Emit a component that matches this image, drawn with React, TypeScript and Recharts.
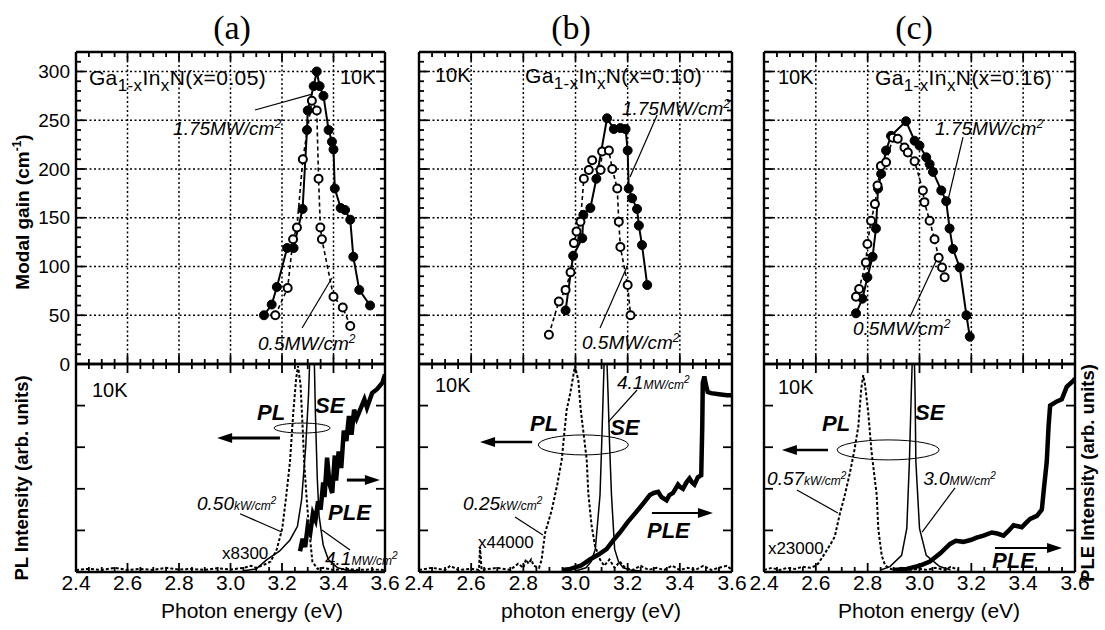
import React from "react";
import { ComposedChart, Line, XAxis, YAxis, ReferenceLine, ReferenceDot } from "recharts";

type Pt = [number, number];

// ticks
const energyTicks = [2.4, 2.6, 2.8, 3.0, 3.2, 3.4, 3.6];
const energyMinorTicks = [
  2.4, 2.45, 2.5, 2.55, 2.6, 2.65, 2.7, 2.75, 2.8, 2.85, 2.9, 2.95, 3.0,
  3.05, 3.1, 3.15, 3.2, 3.25, 3.3, 3.35, 3.4, 3.45, 3.5, 3.55, 3.6,
];
const gainTicks = [0, 50, 100, 150, 200, 250, 300];
const gainMinorTicks = Array.from({ length: 33 }, (_, i) => i * 10);
const intensityTicks = [0, 0.2, 0.4, 0.6, 0.8, 1];

// (a) x = 0.05 : modal gain, eV vs cm-1
const gainHighA: Pt[] = [
  [3.13, 50], [3.16, 61], [3.18, 79], [3.22, 119], [3.245, 119], [3.28, 159],
  [3.297, 240], [3.30, 260], [3.323, 285], [3.335, 300], [3.346, 285], [3.361, 275],
  [3.381, 240], [3.394, 228], [3.40, 220], [3.405, 180], [3.428, 160], [3.445, 158],
  [3.465, 148], [3.477, 110], [3.50, 76], [3.542, 60],
];
const gainLowA: Pt[] = [
  [3.174, 50], [3.222, 78], [3.243, 128], [3.258, 140], [3.281, 210], [3.316, 270],
  [3.335, 260], [3.342, 190], [3.349, 140], [3.355, 128], [3.40, 69], [3.436, 58], [3.465, 39],
];

// (b) x = 0.10
const gainHighB: Pt[] = [
  [2.962, 55], [2.991, 111], [3.026, 129], [3.03, 153], [3.057, 160], [3.08, 190],
  [3.121, 252], [3.147, 241], [3.172, 242], [3.192, 241], [3.2, 219], [3.204, 180],
  [3.217, 170], [3.236, 159], [3.243, 142], [3.255, 122], [3.275, 81],
];
const gainLowB: Pt[] = [
  [2.898, 30], [2.936, 64], [2.962, 76], [2.981, 94], [2.994, 124], [3.004, 136],
  [3.019, 146], [3.032, 190], [3.051, 199], [3.064, 209], [3.096, 199], [3.102, 218],
  [3.128, 219], [3.141, 200], [3.16, 180], [3.166, 146], [3.172, 120], [3.2, 81], [3.211, 50],
];

// (c) x = 0.16
const gainHighC: Pt[] = [
  [2.755, 52], [2.78, 67], [2.799, 89], [2.819, 110], [2.832, 139], [2.84, 180],
  [2.852, 195], [2.871, 219], [2.89, 234], [2.948, 249], [2.981, 229], [3.0, 224],
  [3.026, 212], [3.039, 205], [3.052, 197], [3.084, 178], [3.103, 167], [3.116, 139],
  [3.129, 118], [3.155, 99], [3.181, 50], [3.194, 28],
];
const gainLowC: Pt[] = [
  [2.755, 69], [2.767, 77], [2.793, 104], [2.799, 123], [2.813, 147], [2.828, 164],
  [2.838, 183], [2.851, 203], [2.871, 207], [2.897, 232], [2.916, 231], [2.942, 222],
  [2.955, 217], [2.981, 208], [3.013, 178], [3.019, 166], [3.039, 147], [3.058, 128],
  [3.074, 109], [3.087, 99], [3.097, 89],
];

// PL / SE / PLE spectra, normalised to frame height
const plA: Pt[] = [
  [2.4, 0.01], [2.45, 0.015], [2.5, 0.01], [2.55, 0.02], [2.6, 0.01], [2.65, 0.015],
  [2.7, 0.01], [2.75, 0.02], [2.8, 0.012], [2.85, 0.015], [2.9, 0.01], [2.95, 0.018],
  [3.0, 0.012], [3.05, 0.02], [3.08, 0.03], [3.1, 0.02], [3.13, 0.035], [3.156, 0.05],
  [3.18, 0.11], [3.201, 0.21], [3.215, 0.35], [3.231, 0.53], [3.244, 0.77], [3.255, 0.93],
  [3.262, 0.99], [3.272, 0.9], [3.28, 0.7], [3.286, 0.53], [3.296, 0.35], [3.305, 0.21],
  [3.318, 0.05], [3.338, 0.015], [3.36, 0.02], [3.4, 0.01], [3.45, 0.015], [3.5, 0.01],
  [3.55, 0.012], [3.6, 0.01],
];
const seA: Pt[] = [
  [3.05, 0.006], [3.1, 0.015], [3.14, 0.058], [3.19, 0.1], [3.231, 0.154], [3.26, 0.22],
  [3.276, 0.346], [3.292, 0.6], [3.303, 0.85], [3.31, 1.1], [3.318, 1.2], [3.324, 1.1],
  [3.33, 0.75], [3.337, 0.45], [3.344, 0.27], [3.36, 0.13], [3.38, 0.06], [3.416, 0.02],
  [3.45, 0.01], [3.5, 0.005],
];
const pleA: Pt[] = [
  [3.27, 0.1], [3.28, 0.16], [3.29, 0.12], [3.3, 0.22], [3.31, 0.19], [3.32, 0.28],
  [3.33, 0.25], [3.34, 0.34], [3.35, 0.3], [3.36, 0.43], [3.365, 0.36], [3.375, 0.55],
  [3.385, 0.42], [3.395, 0.38], [3.405, 0.56], [3.41, 0.44], [3.42, 0.58], [3.43, 0.5],
  [3.44, 0.68], [3.45, 0.63], [3.46, 0.75], [3.47, 0.66], [3.48, 0.78], [3.49, 0.74],
  [3.5, 0.77], [3.52, 0.83], [3.53, 0.79], [3.55, 0.86], [3.57, 0.88], [3.59, 0.91], [3.6, 0.95],
];

const plB: Pt[] = [
  [2.4, 0.01], [2.45, 0.02], [2.5, 0.01], [2.52, 0.03], [2.55, 0.01], [2.6, 0.015],
  [2.63, 0.01], [2.634, 0.12], [2.64, 0.01], [2.7, 0.02], [2.75, 0.01], [2.78, 0.04],
  [2.8, 0.02], [2.81, 0.06], [2.82, 0.04], [2.83, 0.06], [2.84, 0.03], [2.86, 0.02],
  [2.87, 0.058], [2.883, 0.186], [2.909, 0.298], [2.93, 0.42], [2.947, 0.538],
  [2.966, 0.779], [2.98, 0.86], [2.998, 0.99], [3.011, 0.92], [3.02, 0.78], [3.043, 0.54],
  [3.049, 0.38], [3.062, 0.22], [3.075, 0.125], [3.094, 0.06], [3.11, 0.03], [3.13, 0.06],
  [3.15, 0.02], [3.17, 0.05], [3.19, 0.02], [3.22, 0.01], [3.25, 0.03], [3.28, 0.01],
  [3.31, 0.02], [3.34, 0.01], [3.37, 0.03], [3.4, 0.01], [3.43, 0.02], [3.46, 0.01],
  [3.49, 0.03], [3.52, 0.01], [3.55, 0.02], [3.58, 0.03], [3.6, 0.01],
];
const seB: Pt[] = [
  [3.0, 0.005], [3.04, 0.02], [3.06, 0.05], [3.076, 0.11], [3.094, 0.37], [3.1, 0.6],
  [3.106, 0.85], [3.112, 1.1], [3.118, 1.1], [3.125, 0.85], [3.131, 0.6], [3.138, 0.37],
  [3.15, 0.11], [3.165, 0.05], [3.183, 0.02], [3.21, 0.01], [3.25, 0.005],
];
const pleB: Pt[] = [
  [2.95, 0.01], [2.98, 0.015], [3.02, 0.03], [3.055, 0.06], [3.09, 0.085], [3.119, 0.11],
  [3.15, 0.16], [3.17, 0.19], [3.2, 0.24], [3.234, 0.29], [3.26, 0.33], [3.285, 0.37],
  [3.3, 0.38], [3.317, 0.385], [3.33, 0.36], [3.349, 0.345], [3.36, 0.37], [3.374, 0.38],
  [3.393, 0.42], [3.4, 0.41], [3.412, 0.4], [3.425, 0.43], [3.437, 0.45], [3.447, 0.43],
  [3.456, 0.42], [3.469, 0.455], [3.482, 0.465], [3.486, 0.7], [3.488, 0.91], [3.494, 0.94],
  [3.5, 0.9], [3.507, 0.865], [3.52, 0.86], [3.55, 0.855], [3.58, 0.85], [3.6, 0.85],
];

const plC: Pt[] = [
  [2.4, 0.01], [2.43, 0.02], [2.46, 0.01], [2.49, 0.02], [2.52, 0.015], [2.55, 0.025],
  [2.58, 0.02], [2.6, 0.03], [2.61, 0.042], [2.635, 0.09], [2.655, 0.13], [2.673, 0.17],
  [2.693, 0.282], [2.71, 0.36], [2.731, 0.474], [2.748, 0.58], [2.764, 0.7], [2.775, 0.88],
  [2.783, 0.946], [2.79, 0.9], [2.802, 0.769], [2.815, 0.577], [2.835, 0.369], [2.841, 0.208],
  [2.854, 0.08], [2.867, 0.033], [2.88, 0.02], [2.9, 0.01], [2.93, 0.02], [2.96, 0.01],
  [3.0, 0.015], [3.03, 0.01], [3.06, 0.02], [3.1, 0.01], [3.12, 0.025], [3.15, 0.01],
];
const seC: Pt[] = [
  [2.85, 0.01], [2.886, 0.026], [2.931, 0.08], [2.951, 0.21], [2.961, 0.53], [2.968, 0.85],
  [2.974, 1.1], [2.979, 1.1], [2.983, 0.85], [2.986, 0.53], [3.0, 0.21], [3.026, 0.08],
  [3.078, 0.026], [3.12, 0.01],
];
const pleC: Pt[] = [
  [2.9, 0.01], [2.951, 0.015], [3.0, 0.03], [3.04, 0.05], [3.08, 0.09], [3.118, 0.135],
  [3.14, 0.15], [3.169, 0.145], [3.2, 0.155], [3.22, 0.165], [3.247, 0.175], [3.279, 0.19],
  [3.3, 0.185], [3.324, 0.175], [3.345, 0.2], [3.363, 0.225], [3.38, 0.22], [3.395, 0.215],
  [3.41, 0.235], [3.427, 0.255], [3.453, 0.27], [3.472, 0.3], [3.48, 0.4], [3.491, 0.53],
  [3.498, 0.7], [3.504, 0.8], [3.53, 0.82], [3.549, 0.83], [3.568, 0.89], [3.594, 0.92], [3.6, 0.93],
];

const SANS = "'Liberation Sans', Arial, Helvetica, sans-serif";
const GAIN_TOP = 52;
const GAIN_H = 312;
const PL_TOP = 364;
const PL_H = 208;
const AX = 1; // axis band, CartesianAxis skips zero-size axes
const NO_MARGIN = { top: 0, right: 0, bottom: 0, left: 0 };
const FRAME = { stroke: "#000", strokeWidth: 2.4 };

const rows = (pts: Pt[]) => pts.map(([e, v]) => ({ e, v }));
const near = (v: number, list: number[]) => list.some((m) => Math.abs(m - v) < 1e-6);

function xTick(side: "top" | "bottom", showLabels: boolean) {
  return (p: any) => {
    const v = Number(p.payload.value);
    const major = near(v, energyTicks);
    const dir = side === "bottom" ? -1 : 1;
    return (
      <g>
        <line x1={p.x} y1={p.y} x2={p.x} y2={p.y + dir * (major ? 9 : 5)} stroke="#000" strokeWidth={1.8} />
        {showLabels && major ? (
          <text x={p.x} y={p.y + 18} textAnchor="middle" fontSize={21} fill="#000">
            {v.toFixed(1)}
          </text>
        ) : null}
      </g>
    );
  };
}

function yTick(side: "left" | "right", majors: number[], showLabels: boolean) {
  return (p: any) => {
    const v = Number(p.payload.value);
    const major = near(v, majors);
    const dir = side === "left" ? 1 : -1;
    return (
      <g>
        <line x1={p.x} y1={p.y} x2={p.x + dir * (major ? 9 : 5)} y2={p.y} stroke="#000" strokeWidth={1.8} />
        {showLabels && major ? (
          <text x={p.x - 6} y={p.y} dy="0.35em" textAnchor="end" fontSize={19} fill="#000">
            {v}
          </text>
        ) : null}
      </g>
    );
  };
}

// annotation helpers (placed in data coordinates)
function note(key: string, e: number, v: number, content: React.ReactNode, style: any) {
  return (
    <ReferenceDot
      key={key}
      x={e}
      y={v}
      r={0}
      ifOverflow="visible"
      shape={(d: any) => (
        <text x={d.cx} y={d.cy} dy="0.35em" fill="#000" fontFamily={SANS} {...style}>
          {content}
        </text>
      )}
    />
  );
}

function pointer(key: string, e1: number, v1: number, e2: number, v2: number) {
  return (
    <ReferenceLine
      key={key}
      segment={[{ x: e1, y: v1 }, { x: e2, y: v2 }]}
      stroke="#000"
      strokeWidth={1.2}
      ifOverflow="visible"
    />
  );
}

function arrow(key: string, e1: number, e2: number, v: number, w: number) {
  return (
    <ReferenceLine
      key={key}
      segment={[{ x: e1, y: v }, { x: e2, y: v }]}
      ifOverflow="visible"
      shape={(p: any) => {
        const dir = Math.sign(p.x2 - p.x1);
        return (
          <g>
            <line x1={p.x1} y1={p.y1} x2={p.x2 - dir * 10} y2={p.y2} stroke="#000" strokeWidth={w} />
            <polygon
              points={`${p.x2},${p.y2} ${p.x2 - dir * 15},${p.y2 - 5} ${p.x2 - dir * 15},${p.y2 + 5}`}
              fill="#000"
            />
          </g>
        );
      }}
    />
  );
}

function ring(key: string, e: number, v: number, rx: number, ry: number) {
  return (
    <ReferenceDot
      key={key}
      x={e}
      y={v}
      r={0}
      ifOverflow="visible"
      shape={(d: any) => <ellipse cx={d.cx} cy={d.cy} rx={rx} ry={ry} fill="none" stroke="#000" strokeWidth={1} />}
    />
  );
}

const formula = (x: string) => (
  <>
    Ga<tspan dy={6} fontSize={17}>1-x</tspan>
    <tspan dy={-6}>In</tspan>
    <tspan dy={6} fontSize={17}>x</tspan>
    <tspan dy={-6}>N(x={x})</tspan>
  </>
);
const bigUnit = (t: string) => (
  <>
    {t}
    <tspan dy={-7} fontSize={12}>2</tspan>
  </>
);
const smallUnit = (n: string, u: string) => (
  <>
    {n}
    <tspan fontSize={12}>{u}</tspan>
    <tspan dy={-6} fontSize={10}>2</tspan>
  </>
);

const F20 = { fontSize: 20 };
const FORM = { fontSize: 21, letterSpacing: 0.4 };
const IT = { fontSize: 19, fontStyle: "italic" };
const BIG = { fontSize: 22, fontStyle: "italic", fontWeight: "bold" };
const F17 = { fontSize: 17 };

type Panel = {
  id: string;
  left: number;
  width: number;
  gainHigh: Pt[];
  gainLow: Pt[];
  pl: Pt[];
  se: Pt[];
  ple: Pt[];
  gainNotes: React.ReactNode[];
  plNotes: React.ReactNode[];
};

const panels: Panel[] = [
  {
    id: "a",
    left: 76,
    width: 309,
    gainHigh: gainHighA,
    gainLow: gainLowA,
    pl: plA,
    se: seA,
    ple: pleA,
    gainNotes: [
      note("f", 2.45, 294, formula("0.05"), FORM),
      note("k", 3.425, 294, "10K", F20),
      note("h", 2.777, 242, bigUnit("1.75MW/cm"), IT),
      pointer("hp", 3.095, 260.5, 3.32, 277),
      note("l", 3.107, 21.5, bigUnit("0.5MW/cm"), IT),
      pointer("lp", 3.278, 36.9, 3.394, 88.2),
    ],
    plNotes: [
      note("k", 2.462, 0.875, "10K", F20),
      note("pl", 3.103, 0.769, "PL", BIG),
      note("se", 3.328, 0.803, "SE", BIG),
      ring("r", 3.278, 0.692, 28, 5),
      arrow("al", 3.192, 2.948, 0.644, 3),
      note("pw", 2.87, 0.332, smallUnit("0.50", "kW/cm"), IT),
      pointer("pwp", 3.037, 0.28, 3.199, 0.192),
      note("m", 2.967, 0.091, "x8300", F17),
      note("ple", 3.379, 0.288, "PLE", BIG),
      arrow("ar", 3.452, 3.58, 0.442, 3),
      note("sw", 3.367, 0.067, smallUnit("4.1", "MW/cm"), IT),
      pointer("swp", 3.355, 0.202, 3.464, 0.106),
    ],
  },
  {
    id: "b",
    left: 419,
    width: 313,
    gainHigh: gainHighB,
    gainLow: gainLowB,
    pl: plB,
    se: seB,
    ple: pleB,
    gainNotes: [
      note("k", 2.461, 296, "10K", F20),
      note("f", 2.806, 296, formula("0.10"), FORM),
      note("h", 3.178, 262.5, bigUnit("1.75MW/cm"), IT),
      pointer("hp", 3.313, 255.4, 3.209, 191.8),
      note("l", 3.025, 22.6, bigUnit("0.5MW/cm"), IT),
      pointer("lp", 3.094, 36.9, 3.197, 99.5),
    ],
    plNotes: [
      note("k", 2.461, 0.899, "10K", F20),
      note("pl", 2.826, 0.716, "PL", BIG),
      note("se", 3.133, 0.697, "SE", BIG),
      ring("r", 3.03, 0.611, 45, 10),
      arrow("al", 2.834, 2.634, 0.625, 2.5),
      note("sw", 3.159, 0.913, smallUnit("4.1", "MW/cm"), IT),
      pointer("swp", 3.236, 0.875, 3.125, 0.721),
      note("pw", 2.569, 0.332, smallUnit("0.25", "kW/cm"), IT),
      pointer("pwp", 2.768, 0.264, 2.875, 0.178),
      note("m", 2.626, 0.144, "x44000", F17),
      note("ple", 3.274, 0.202, "PLE", BIG),
      arrow("ar", 3.293, 3.527, 0.284, 2),
    ],
  },
  {
    id: "c",
    left: 764,
    width: 311,
    gainHigh: gainHighC,
    gainLow: gainLowC,
    pl: plC,
    se: seC,
    ple: pleC,
    gainNotes: [
      note("k", 2.454, 294, "10K", F20),
      note("f", 2.828, 294, formula("0.16"), FORM),
      note("h", 3.06, 242, bigUnit("1.75MW/cm"), IT),
      pointer("hp", 3.168, 232.8, 3.11, 168.2),
      note("l", 2.743, 36.9, bigUnit("0.5MW/cm"), IT),
      pointer("lp", 2.963, 48.2, 3.071, 109.7),
    ],
    plNotes: [
      note("k", 2.454, 0.889, "10K", F20),
      note("pl", 2.624, 0.716, "PL", BIG),
      note("se", 2.983, 0.769, "SE", BIG),
      ring("r", 2.879, 0.587, 51, 10),
      arrow("al", 2.647, 2.469, 0.587, 2.5),
      note("pw", 2.412, 0.452, smallUnit("0.57", "kW/cm"), IT),
      pointer("pwp", 2.527, 0.394, 2.685, 0.284),
      note("sw", 3.014, 0.452, smallUnit("3.0", "MW/cm"), IT),
      pointer("swp", 3.137, 0.404, 3.01, 0.192),
      note("m", 2.415, 0.115, "x23000", F17),
      note("ple", 3.28, 0.058, "PLE", BIG),
      arrow("ar", 3.291, 3.55, 0.115, 2),
    ],
  },
];

const energyAxis = {
  dataKey: "e",
  type: "number" as const,
  domain: [2.4, 3.6],
  allowDataOverflow: true,
  ticks: energyMinorTicks,
  interval: 0,
  height: AX,
  tickSize: 0,
  tickMargin: 0,
  tickLine: false,
  axisLine: FRAME,
};

function GainChart({ p }: { p: Panel }) {
  const yAxis = {
    type: "number" as const,
    domain: [0, 320],
    allowDataOverflow: true,
    ticks: gainMinorTicks,
    interval: 0,
    width: AX,
    tickSize: 0,
    tickMargin: 0,
    tickLine: false,
    axisLine: FRAME,
  };
  return (
    <div style={{ position: "absolute", left: p.left - AX, top: GAIN_TOP - AX }}>
      <ComposedChart width={p.width + 2 * AX} height={GAIN_H + 2 * AX} margin={NO_MARGIN}>
        <XAxis {...energyAxis} tick={xTick("bottom", false)} />
        <XAxis {...energyAxis} xAxisId="top" orientation="top" tick={xTick("top", false)} />
        <YAxis {...yAxis} tick={yTick("left", gainTicks, p.id === "a")} />
        <YAxis {...yAxis} yAxisId="right" orientation="right" tick={yTick("right", gainTicks, false)} />
        {energyTicks.slice(1, -1).map((e) => (
          <ReferenceLine key={"gx" + e} x={e} stroke="#000" strokeWidth={1.5} strokeDasharray="2 2.5" />
        ))}
        {gainTicks.slice(1).map((g) => (
          <ReferenceLine key={"gy" + g} y={g} stroke="#000" strokeWidth={1.5} strokeDasharray="2 2.5" />
        ))}
        <Line
          data={rows(p.gainHigh)}
          dataKey="v"
          stroke="#000"
          strokeWidth={2}
          dot={{ r: 4.5, fill: "#000", stroke: "#000", strokeWidth: 1 }}
          isAnimationActive={false}
        />
        <Line
          data={rows(p.gainLow)}
          dataKey="v"
          stroke="#000"
          strokeWidth={1.6}
          strokeDasharray="4 3"
          dot={{ r: 4, fill: "#fff", stroke: "#000", strokeWidth: 2, strokeDasharray: "none" }}
          isAnimationActive={false}
        />
        {p.gainNotes}
      </ComposedChart>
    </div>
  );
}

function SpectraChart({ p }: { p: Panel }) {
  const yAxis = {
    type: "number" as const,
    domain: [0, 1],
    allowDataOverflow: true,
    ticks: intensityTicks,
    interval: 0,
    width: AX,
    tickSize: 0,
    tickMargin: 0,
    tickLine: false,
    axisLine: FRAME,
  };
  return (
    <div style={{ position: "absolute", left: p.left - AX, top: PL_TOP - AX }}>
      <ComposedChart width={p.width + 2 * AX} height={PL_H + 2 * AX} margin={NO_MARGIN}>
        <XAxis {...energyAxis} tick={xTick("bottom", true)} />
        <XAxis {...energyAxis} xAxisId="top" orientation="top" tick={xTick("top", false)} />
        <YAxis {...yAxis} tick={yTick("left", intensityTicks, false)} />
        <YAxis {...yAxis} yAxisId="right" orientation="right" tick={yTick("right", intensityTicks, false)} />
        <Line data={rows(p.pl)} dataKey="v" stroke="#000" strokeWidth={2} strokeDasharray="3 2" dot={false} isAnimationActive={false} />
        <Line data={rows(p.se)} dataKey="v" stroke="#000" strokeWidth={1.5} dot={false} isAnimationActive={false} />
        <Line data={rows(p.ple)} dataKey="v" yAxisId="right" stroke="#000" strokeWidth={4.5} dot={false} isAnimationActive={false} />
        {p.plNotes}
      </ComposedChart>
    </div>
  );
}

const titles = [
  { text: "(a)", x: 232 },
  { text: "(b)", x: 571 },
  { text: "(c)", x: 914 },
];
const xTitles = [
  { text: "Photon energy (eV)", x: 252 },
  { text: "photon energy (eV)", x: 591 },
  { text: "Photon energy (eV)", x: 929 },
];

export default function App() {
  const rot = (x: number, y: number): React.CSSProperties => ({
    position: "absolute",
    left: x,
    top: y,
    transform: "translate(-50%, -50%) rotate(-90deg)",
    whiteSpace: "nowrap",
    fontWeight: "bold",
    fontSize: 18.5,
    lineHeight: 1,
  });
  return (
    <div
      style={{
        position: "absolute",
        left: 0,
        top: 0,
        width: 1105,
        height: 630,
        background: "#fff",
        overflow: "hidden",
        fontFamily: SANS,
        color: "#000",
      }}
    >
      <style>{".recharts-surface{overflow:visible !important}"}</style>
      {titles.map((t) => (
        <div
          key={t.text}
          style={{
            position: "absolute",
            left: t.x,
            top: 28,
            transform: "translate(-50%, -50%)",
            fontFamily: "'Liberation Serif', 'Times New Roman', serif",
            fontSize: 34,
            lineHeight: 1,
          }}
        >
          {t.text}
        </div>
      ))}
      {panels.map((p) => (
        <React.Fragment key={p.id}>
          <GainChart p={p} />
          <SpectraChart p={p} />
        </React.Fragment>
      ))}
      {xTitles.map((t) => (
        <div
          key={t.x}
          style={{
            position: "absolute",
            left: t.x,
            top: 610,
            transform: "translate(-50%, -50%)",
            fontSize: 21,
            lineHeight: 1,
            whiteSpace: "nowrap",
          }}
        >
          {t.text}
        </div>
      ))}
      <div style={{ ...rot(22, 212), fontSize: 19 }}>
        Modal gain (cm<sup style={{ fontSize: 12, lineHeight: 0 }}>-1</sup>)
      </div>
      <div style={rot(22, 478)}>PL Intensity (arb. units)</div>
      <div style={rot(1088, 473)}>PLE Intensity (arb. units)</div>
    </div>
  );
}
